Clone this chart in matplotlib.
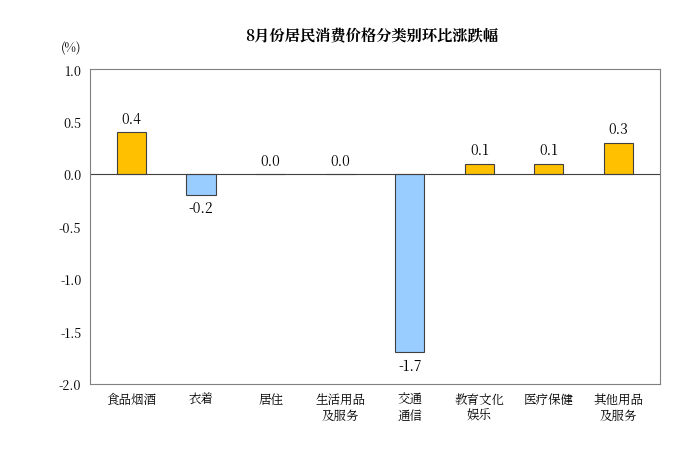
import matplotlib
matplotlib.use("Agg")
import matplotlib.pyplot as plt
from matplotlib import font_manager as fm

cjk = None
for f in fm.findSystemFonts():
    if "CJK" in f or "cjk" in f.lower():
        try:
            fm.fontManager.addfont(f)
            name = fm.FontProperties(fname=f).get_name()
            if cjk is None or "SC" in name:
                cjk = name
        except Exception:
            pass
plt.rcParams['font.family'] = [cjk or 'Noto Sans CJK SC', 'Noto Sans CJK JP', 'DejaVu Sans']

categories = ["食品烟酒", "衣着", "居住", "生活用品\n及服务", "交通\n通信", "教育文化\n娱乐", "医疗保健", "其他用品\n及服务"]
values = [0.4, -0.2, 0.0, 0.0, -1.7, 0.1, 0.1, 0.3]
yticks = [1.0, 0.5, 0.0, -0.5, -1.0, -1.5, -2.0]

fig = plt.figure(figsize=(6.75, 4.56), dpi=100)
ax = fig.add_axes([0.133, 0.156, 0.845, 0.69])
x = range(len(categories))
colors = ["#FFC000" if v >= 0 else "#99CCFF" for v in values]
ax.bar(x, values, width=0.42, color=colors, edgecolor="#404040", linewidth=0.8)
for i, v in enumerate(values):
    if v >= 0:
        ax.text(i, v + 0.05, f"{v:.1f}", ha="center", va="bottom", fontsize=10)
    else:
        ax.text(i, v - 0.05, f"{v:.1f}", ha="center", va="top", fontsize=10)
ax.set_ylim(-2.0, 1.0)
ax.set_xlim(-0.6, len(categories) - 0.4)
ax.set_yticks(yticks)
ax.set_yticklabels([f"{t:.1f}" for t in yticks], fontsize=9)
ax.set_xticks(list(x))
ax.set_xticklabels(categories, fontsize=9, va="top", linespacing=1.2)
ax.tick_params(axis="x", length=0, pad=6)
ax.tick_params(axis="y", length=0, pad=6)
ax.axhline(0, color="#404040", linewidth=0.8)
for s in ax.spines.values():
    s.set_color("#808080")
    s.set_linewidth(0.8)
fig.text(0.105, 0.885, "(%)", fontsize=9, ha="center")
fig.text(0.55, 0.91, "8月份居民消费价格分类别环比涨跌幅", fontsize=11, fontweight="bold", ha="center")
fig.savefig("out.png", dpi=100)
